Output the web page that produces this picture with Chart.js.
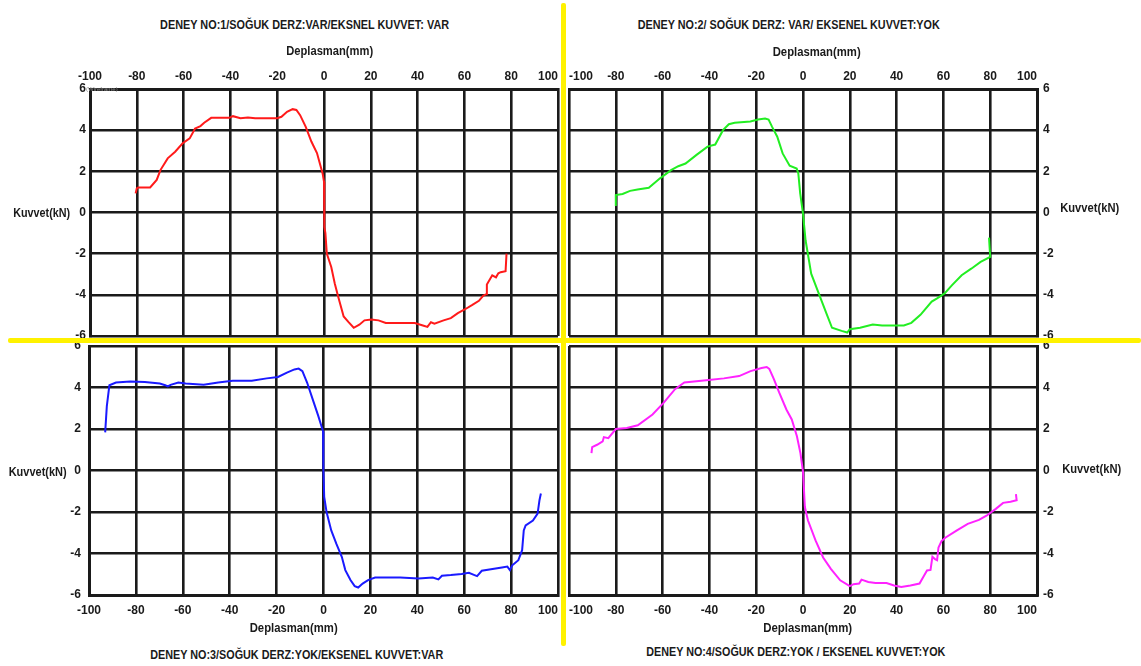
<!DOCTYPE html>
<html><head><meta charset="utf-8">
<script src="https://cdn.jsdelivr.net/npm/chart.js@4/dist/chart.umd.min.js"></script>
<style>
html,body{margin:0;padding:0;background:#fff;}
#wrap{position:relative;width:1141px;height:666px;overflow:hidden;background:#fff;}
canvas{position:absolute;}
.lbl{position:absolute;white-space:nowrap;font-family:"Liberation Sans",Arial,sans-serif;font-weight:bold;color:#1a1a1a;line-height:1;z-index:3;}
.yl{position:absolute;background:#fff200;z-index:5;border-radius:2px;}
.wf{position:absolute;font-family:"Liberation Sans",Arial,sans-serif;font-size:6px;color:#888;z-index:4;white-space:nowrap;}
</style></head>
<body><div id="wrap">
<canvas id="c1"></canvas><canvas id="c2"></canvas><canvas id="c3"></canvas><canvas id="c4"></canvas>
<div class="yl" style="left:561px;top:3px;width:5px;height:643px;"></div>
<div class="yl" style="left:8px;top:337.5px;width:1133px;height:5.5px;"></div>
<div class="wf" style="left:86px;top:86px;">(Wireframe)</div>
</div>
<script>
// ---------- data ----------
const titles = [
  "DENEY NO:1/SOĞUK DERZ:VAR/EKSNEL KUVVET: VAR",
  "DENEY NO:2/ SOĞUK DERZ: VAR/ EKSENEL KUVVET:YOK",
  "DENEY NO:3/SOĞUK DERZ:YOK/EKSENEL KUVVET:VAR",
  "DENEY NO:4/SOĞUK DERZ:YOK / EKSENEL KUVVET:YOK"
];
const xAxisTitle = "Deplasman(mm)";
const yAxisTitle = "Kuvvet(kN)";
const xTickMin = -100, xTickMax = 100, xTickStep = 20;
const yTickMin = -6, yTickMax = 6, yTickStep = 2;

const p1X = [-80.5,-80,-79.4,-74.3,-71.5,-69.9,-66.8,-63.6,-60.5,-57.4,-55.1,-52.8,-51.2,-48.2,-40.5,-38.9,-35.7,-32.5,-29.4,-20,-18.2,-15.8,-13.4,-11.8,-10.2,-7.8,-5.4,-3.0,-0.6,0,0,0.3,0.6,1.2,3.1,4.6,6.1,8.4,10.5,12.7,15.1,17.3,20.2,23.3,26.4,32.6,38.8,42.6,44.2,45.7,47.2,51.1,54.2,57.2,60.3,63.4,66.2,68.0,69.3,69.6,71.9,73.5,74.5,75.5,77.6,78];
const p1Y = [0.93,1.17,1.22,1.22,1.58,2.06,2.63,2.95,3.35,3.6,4.08,4.2,4.36,4.6,4.6,4.68,4.58,4.62,4.58,4.58,4.65,4.89,5.02,4.98,4.73,4.16,3.45,2.89,1.9,1.5,0.44,-0.7,-1.0,-2.0,-2.65,-3.45,-4.1,-5.05,-5.33,-5.6,-5.45,-5.24,-5.2,-5.24,-5.37,-5.37,-5.37,-5.5,-5.56,-5.33,-5.4,-5.24,-5.13,-4.89,-4.7,-4.49,-4.29,-4.05,-3.97,-3.5,-3.05,-3.15,-2.95,-2.9,-2.85,-2.0];

const p2X = [-80,-80,-77.1,-73.9,-70.7,-65.9,-61.1,-56.4,-53.3,-50.2,-45.5,-40.8,-37.5,-34.2,-31.7,-29.2,-22.5,-19.2,-16.2,-14.7,-13.2,-11,-8.7,-5.7,-2.7,-2,-1.2,0,1.1,3.5,6.8,10,12.4,16.5,18.9,20,24.4,29.8,33.8,43.1,46.3,50.2,55,57.3,60.5,63.7,67.8,71.9,75.9,80,79.5];
const p2Y = [0.31,0.85,0.9,1.05,1.12,1.2,1.66,2.06,2.25,2.38,2.8,3.2,3.3,4.0,4.29,4.36,4.42,4.52,4.57,4.52,4.16,3.68,2.87,2.27,2.14,1.9,0.93,-0.05,-1.35,-2.97,-3.95,-4.9,-5.6,-5.75,-5.83,-5.67,-5.6,-5.44,-5.49,-5.49,-5.36,-4.97,-4.33,-4.17,-3.93,-3.53,-3.05,-2.73,-2.4,-2.16,-1.22];

const p3X = [-93.1,-92.4,-91.3,-88.5,-82.4,-76.2,-69.8,-67.5,-66.4,-65.2,-61.9,-58.8,-51.1,-44.9,-38.7,-30.6,-24.2,-19.4,-15.6,-12.4,-10.6,-9,-7,-4.6,-2.2,-0.2,-0.1,0,0.3,1.3,3.3,5.5,7.8,9.3,11.5,13.3,14.8,16.7,19,22,25,32.7,40.5,46.6,49,50.5,54.3,58.9,62,64.4,65.5,67.5,71.4,76.1,78.4,79.5,80.5,83.1,84.7,85.4,86.2,89.3,91.3,92.1,92.7];
const p3Y = [1.84,3.1,4.11,4.24,4.29,4.27,4.19,4.11,4.05,4.13,4.24,4.19,4.13,4.24,4.32,4.32,4.44,4.51,4.72,4.87,4.91,4.79,4.24,3.43,2.62,1.89,1.65,0.03,-1.27,-2.0,-2.89,-3.54,-4.16,-4.8,-5.28,-5.57,-5.64,-5.45,-5.28,-5.16,-5.16,-5.16,-5.2,-5.16,-5.25,-5.07,-5.04,-4.99,-4.93,-5.04,-5.09,-4.83,-4.76,-4.67,-4.63,-4.8,-4.57,-4.32,-3.84,-2.89,-2.65,-2.41,-2.08,-1.43,-1.11];

const p4X = [-90.4,-90.1,-88,-85.6,-85.1,-83.2,-80,-75.3,-70.6,-64.3,-59.5,-54.7,-50.7,-40.3,-33.8,-27.3,-22.4,-17.7,-15.5,-14.4,-12.4,-10.2,-7.1,-4.8,-2.6,-1.1,0,0.8,2.1,5.4,8.6,11.9,15.9,20,21.6,24,25,27.9,31,35.7,38.9,42,45.9,49.8,51.4,53,54.5,55.3,56.4,57.3,57.9,59.2,60.8,65.6,70.4,75.2,78.4,82.4,85.5,88.7,91.3,91];
const p4Y = [0.84,1.13,1.24,1.4,1.61,1.56,2.0,2.05,2.18,2.7,3.27,3.92,4.24,4.36,4.44,4.55,4.79,4.94,4.99,4.9,4.39,3.76,2.94,2.46,1.65,0.84,-0.05,-1.76,-2.4,-3.38,-4.19,-4.74,-5.29,-5.57,-5.48,-5.45,-5.26,-5.37,-5.42,-5.42,-5.54,-5.61,-5.54,-5.45,-5.13,-4.82,-4.79,-4.16,-4.27,-4.32,-3.71,-3.4,-3.24,-2.9,-2.57,-2.38,-2.18,-1.85,-1.56,-1.51,-1.43,-1.14];

const seriesColors = ["#ff1a1a", "#22ee22", "#1a1aff", "#ff22ff"];

// ---------- layout ----------
const FONT = '"Liberation Sans", Arial, sans-serif';
const panels = [
  {id:'c1', xs:p1X, ys:p1Y, rect:{l:0,t:50,w:600,h:300},   area:{l:90,t:89,r:558,b:336},  xPos:'top',    yPos:'left',  xPad:5, yPad:4, xAlign:'center'},
  {id:'c2', xs:p2X, ys:p2Y, rect:{l:530,t:50,w:600,h:300}, area:{l:569,t:89,r:1037,b:336}, xPos:'top',    yPos:'right', xPad:5, yPad:6, xAlign:'inner'},
  {id:'c3', xs:p3X, ys:p3Y, rect:{l:0,t:330,w:600,h:300},  area:{l:89,t:346,r:558,b:595}, xPos:'bottom', yPos:'left',  xPad:8, yPad:8, xAlign:'center'},
  {id:'c4', xs:p4X, ys:p4Y, rect:{l:530,t:330,w:600,h:300},area:{l:569,t:346,r:1037,b:595},xPos:'bottom', yPos:'right', xPad:8, yPad:6, xAlign:'inner'}
];
const labelPos = [
  {title:[304.5,25,289], xt:[329.6,51,87], yt:[41.5,213,57]},
  {title:[789,25,302],   xt:[817,52,88],   yt:[1089.5,208,59]},
  {title:[296.5,655,293],xt:[294,628,88],  yt:[38,472,58]},
  {title:[795.5,652,299],xt:[808,628,89],  yt:[1091.5,469,59]}
];

const wrap = document.getElementById('wrap');
function place(text, cx, cy, w, size) {
  const d = document.createElement('div');
  d.className = 'lbl';
  d.textContent = text;
  d.style.fontSize = size + 'px';
  wrap.appendChild(d);
  const nat = d.getBoundingClientRect().width;
  const h = d.getBoundingClientRect().height;
  d.style.left = (cx - nat/2) + 'px';
  d.style.top = (cy - h/2) + 'px';
  d.style.transform = 'scaleX(' + (w/nat) + ')';
  d.style.transformOrigin = 'center center';
}

panels.forEach((p, i) => {
  const cv = document.getElementById(p.id);
  const r = p.rect, a = p.area;
  cv.width = r.w; cv.height = r.h;
  cv.style.left = r.l + 'px'; cv.style.top = r.t + 'px';
  cv.style.width = r.w + 'px'; cv.style.height = r.h + 'px';
  const pad = {
    left: p.yPos === 'left' ? 0 : a.l - r.l,
    right: p.yPos === 'right' ? 0 : r.l + r.w - a.r,
    top: p.xPos === 'top' ? 0 : a.t - r.t,
    bottom: p.xPos === 'bottom' ? 0 : r.t + r.h - a.b
  };
  const yW = p.yPos === 'left' ? a.l - r.l : r.l + r.w - a.r;
  const xH = p.xPos === 'top' ? a.t - r.t : r.t + r.h - a.b;
  const pts = p.xs.map((x, k) => ({x: x, y: p.ys[k]}));
  const gridCol = '#1a1a1a';
  const centered = p.xAlign === 'center';
  new Chart(cv, {
    type: 'scatter',
    data: { datasets: [{ data: pts, showLine: true, borderColor: seriesColors[i], borderWidth: 2, pointRadius: 0, fill: false, tension: 0 }] },
    options: {
      responsive: false, animation: false, devicePixelRatio: 1,
      layout: { padding: pad },
      plugins: { legend: {display: false}, tooltip: {enabled: false}, title: {display: false} },
      scales: {
        x: {
          type: 'linear', position: p.xPos, min: xTickMin, max: xTickMax,
          ticks: { stepSize: xTickStep, padding: p.xPad, color: '#1a1a1a', maxRotation: 0, autoSkip: false,
                   align: p.xAlign,
                   callback: v => (centered && v === xTickMax) ? String(v) + '      ' : String(v),
                   font: {family: FONT, size: 12, weight: 'bold'} },
          grid: { color: gridCol, lineWidth: 2.6, drawTicks: false },
          border: { color: gridCol, width: 3 },
          afterFit: s => { s.height = xH; }
        },
        y: {
          type: 'linear', position: p.yPos, min: yTickMin, max: yTickMax,
          ticks: { stepSize: yTickStep, padding: p.yPad, color: '#1a1a1a',
                   font: {family: FONT, size: 12, weight: 'bold'} },
          grid: { color: gridCol, lineWidth: 2.6, drawTicks: false },
          border: { color: gridCol, width: 3 },
          afterFit: s => { s.width = yW; }
        }
      }
    }
  });
  const L = labelPos[i];
  place(titles[i], L.title[0], L.title[1], L.title[2], 12);
  place(xAxisTitle, L.xt[0], L.xt[1], L.xt[2], 12);
  place(yAxisTitle, L.yt[0], L.yt[1], L.yt[2], 12);
});
</script>
</body></html>
